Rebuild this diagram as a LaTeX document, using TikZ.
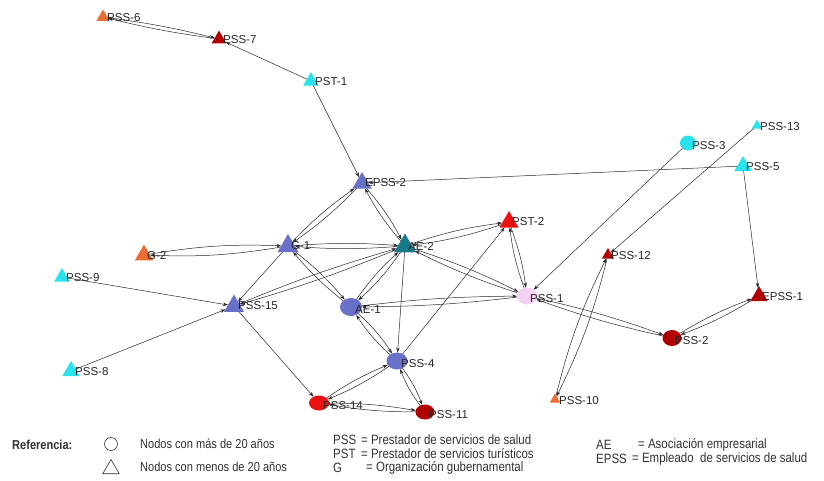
\documentclass[tikz,border=0pt]{standalone}
\usepackage{fontspec}
\setmainfont{Liberation Sans}
\newfontfamily\narrowfont[FakeStretch=0.85]{Liberation Sans}
\usetikzlibrary{arrows.meta,shapes.geometric}

\definecolor{sblue}{RGB}{104,112,200}
\definecolor{tealc}{RGB}{22,122,138}
\definecolor{cyanc}{RGB}{40,226,236}
\definecolor{orng}{RGB}{234,110,52}
\definecolor{dred}{RGB}{178,0,0}
\definecolor{bred}{RGB}{236,16,16}
\definecolor{pinkc}{RGB}{246,210,240}
\definecolor{edgec}{RGB}{40,40,40}
\definecolor{legc}{RGB}{50,50,50}

\tikzset{
 tri/.style={regular polygon, regular polygon sides=3, inner sep=0pt, outer sep=0pt, draw=none, minimum size=#1},
 circ/.style 2 args={ellipse, inner sep=0pt, outer sep=0pt, draw=none, minimum width=#1, minimum height=#2},
 lbl/.style={anchor=west, inner sep=0pt, font=\fontsize{11.5}{12}\selectfont, text=black!85},
 arr/.style={draw=edgec, line width=0.5pt, -{Stealth[length=5pt,width=3.5pt]}},
 mut/.style={arr, bend left=#1},
 legtxt/.style={anchor=west, inner sep=0pt, text=legc, font=\narrowfont\fontsize{13}{14}\selectfont},
 legtxtb/.style={anchor=west, inner sep=0pt, text=legc, font=\narrowfont\fontsize{13.5}{14}\selectfont},
}

\begin{document}
\begin{tikzpicture}[x=1pt,y=-1pt]
\useasboundingbox (0,0) rectangle (824,480);
\fill[white] (0,0) rectangle (824,480);

% ---- nodes: triangles (centre = centroid) ----
\node[tri=15, fill=orng]  (pss6)  at (103,17)  {};
\node[tri=17, fill=dred]  (pss7)  at (219,39)  {};
\node[tri=18, fill=cyanc] (pst1)  at (311,81)  {};
\node[tri=22, fill=sblue] (epss2) at (362,183) {};
\node[tri=24, fill=sblue] (g1)    at (288,246) {};
\node[tri=21, fill=orng]  (g2)    at (144,255) {};
\node[tri=25, fill=tealc] (ae2)   at (405,246) {};
\node[tri=23, fill=sblue] (pss15) at (234,306) {};
\node[tri=22, fill=bred]  (pst2)  at (509,222) {};
\node[tri=18, fill=cyanc] (pss9)  at (62,277)  {};
\node[tri=20, fill=cyanc] (pss8)  at (71,371)  {};
\node[tri=12, fill=cyanc] (pss13) at (757,125.5) {};
\node[tri=20, fill=cyanc] (pss5)  at (743,166) {};
\node[tri=14, fill=dred]  (pss12) at (608,255) {};
\node[tri=20, fill=dred]  (epss1) at (759,296) {};
\node[tri=12, fill=orng]  (pss10) at (555,399.5) {};
% ---- nodes: circles ----
\node[circ={22}{18}, fill=sblue] (ae1)   at (351,307) {};
\node[circ={21}{17}, fill=sblue] (pss4)  at (397,361) {};
\node[circ={20}{15}, fill=bred]  (pss14) at (319,403) {};
\node[circ={19}{15}, fill=dred]  (pss11) at (425,412) {};
\node[circ={20}{17}, fill=pinkc] (pss1)  at (527,296) {};
\node[circ={16}{15}, fill=cyanc] (pss3)  at (688,143) {};
\node[circ={19}{16}, fill=dred]  (pss2)  at (672,338) {};

% ---- connectors ----
\draw[mut=3] (pss6) to (pss7);  \draw[mut=3] (pss7) to (pss6);
\draw[arr] (pst1) -- (pss7);
\draw[arr] (pst1) -- (epss2);
\draw[arr] (pss5) -- (epss2);
\draw[arr] (pss5) -- (epss1);
\draw[mut=5] (epss2) to (g1);   \draw[mut=5] (g1) to (epss2);
\draw[mut=6] (epss2) to (ae2);  \draw[mut=6] (ae2) to (epss2);
\draw[mut=5.5] (g1) to (g2);    \draw[mut=5.5] (g2) to (g1);
\draw[mut=4] (g1) to (ae2);     \draw[mut=4] (ae2) to (g1);
\draw[arr] (g1) -- (pss15);
\draw[mut=5.5] (g1) to (ae1);   \draw[mut=5.5] (ae1) to (g1);
\draw[mut=3] (ae2) to (pss15);  \draw[mut=3] (pss15) to (ae2);
\draw[mut=6] (ae2) to (ae1);    \draw[mut=6] (ae1) to (ae2);
\draw[arr] (ae2) -- (pss4);
\draw[mut=5.5] (ae2) to (pst2); \draw[mut=5.5] (pst2) to (ae2);
\draw[mut=4] (ae2) to (pss1);   \draw[mut=4] (pss1) to (ae2);
\draw[mut=6] (pst2) to (pss1);  \draw[mut=6] (pss1) to (pst2);
\draw[arr] (pss4) -- (pst2);
\draw[arr] (pss9) -- (pss15);
\draw[arr] (pss8) -- (pss15);
\draw[arr] (pss15) -- (pss14);
\draw[mut=7] (ae1) to (pss4);   \draw[mut=7] (pss4) to (ae1);
\draw[mut=3] (ae1) to (pss1);   \draw[mut=3] (pss1) to (ae1);
\draw[mut=5.5] (pss4) to (pss14); \draw[mut=5.5] (pss14) to (pss4);
\draw[mut=7.5] (pss4) to (pss11); \draw[mut=7.5] (pss11) to (pss4);
\draw[mut=4.5] (pss14) to (pss11);\draw[mut=4.5] (pss11) to (pss14);
\draw[arr] (pss3) -- (pss1);
\draw[arr] (pss13) -- (pss12);
\draw[mut=6] (pss12) to (pss10);\draw[mut=6] (pss10) to (pss12);
\draw[mut=3.5] (pss1) to (pss2);  \draw[mut=3.5] (pss2) to (pss1);
\draw[mut=5] (pss2) to (epss1); \draw[mut=5] (epss1) to (pss2);

% ---- labels ----
\node[lbl] (l-pss6)  at (107,18)  {PSS-6};
\node[lbl] (l-pss7)  at (223,40)  {PSS-7};
\node[lbl] (l-pst1)  at (315,82)  {PST-1};
\node[lbl] (l-epss2) at (365,183) {EPSS-2};
\node[lbl] (l-g1)    at (291,246) {G-1};
\node[lbl] (l-g2)    at (147,256) {G-2};
\node[lbl] (l-ae2)   at (408,246) {AE-2};
\node[lbl] (l-pss15) at (238,306) {PSS-15};
\node[lbl] (l-pst2)  at (512,222) {PST-2};
\node[lbl] (l-pss9)  at (66,278)  {PSS-9};
\node[lbl] (l-pss8)  at (75,372)  {PSS-8};
\node[lbl] (l-pss13) at (760,127) {PSS-13};
\node[lbl] (l-pss5)  at (746,167) {PSS-5};
\node[lbl] (l-pss12) at (611,256) {PSS-12};
\node[lbl] (l-epss1) at (762,297) {EPSS-1};
\node[lbl] (l-pss10) at (559,401) {PSS-10};
\node[lbl] (l-ae1)   at (355,310) {AE-1};
\node[lbl] (l-pss4)  at (401,364) {PSS-4};
\node[lbl] (l-pss14) at (323,406) {PSS-14};
\node[lbl] (l-pss11) at (429,415) {PSS-11};
\node[lbl] (l-pss1)  at (530,299) {PSS-1};
\node[lbl] (l-pss3)  at (692,146) {PSS-3};
\node[lbl] (l-pss2)  at (675,341) {PSS-2};

% ---- legend ----
\node[legtxt, font=\narrowfont\bfseries\fontsize{13}{14}\selectfont] (ref) at (12,445) {Referencia:};
\node[circle, draw=legc, line width=0.6pt, minimum size=13pt, inner sep=0pt] (legc1) at (111,444) {};
\node[regular polygon, regular polygon sides=3, draw=legc, line width=0.6pt, minimum size=19pt, inner sep=0pt] (legt1) at (111,469) {};
\node[legtxt] (n1) at (140,444) {Nodos con más de 20 años};
\node[legtxt] (n2) at (140,467) {Nodos con menos de 20 años};
\node[legtxtb] (a1) at (333,440) {PSS};
\node[legtxtb] (d1) at (361,440) {= Prestador de servicios de salud};
\node[legtxtb] (a2) at (333,454) {PST};
\node[legtxtb] (d2) at (361,454) {= Prestador de servicios turísticos};
\node[legtxtb] (a3) at (333,468) {G};
\node[legtxtb] (d3) at (366,468) {= Organización gubernamental};
\node[legtxtb] (a4) at (596,445) {AE};
\node[legtxtb] (d4) at (638,445) {= Asociación empresarial};
\node[legtxtb] (a5) at (596,459) {EPSS};
\node[legtxtb] (d5) at (632,459) {= Empleado \ de servicios de salud};
\end{tikzpicture}
\end{document}
